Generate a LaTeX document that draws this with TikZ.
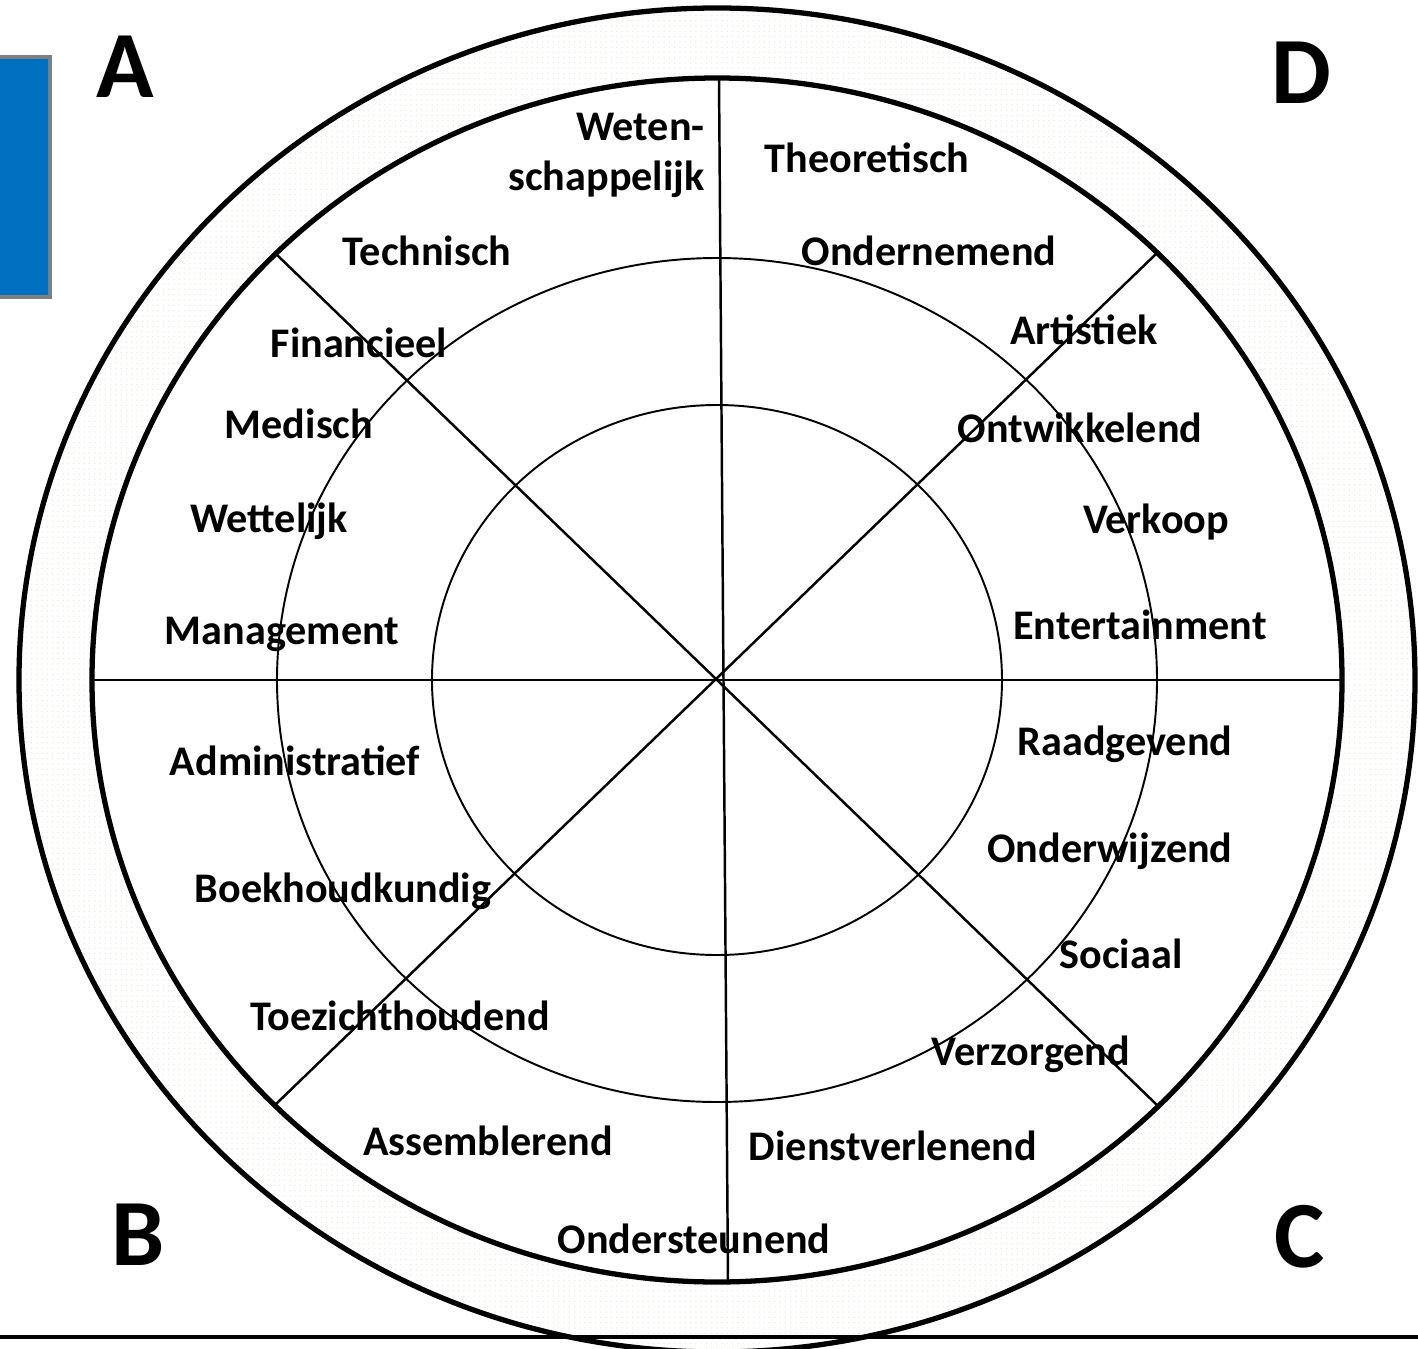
\documentclass[tikz,border=0pt]{standalone}
\usepackage{fontspec}
\setmainfont{Carlito}
\usetikzlibrary{patterns}
\definecolor{WheelBlue}{HTML}{0070C0}
\definecolor{RimGray}{HTML}{7F7F7F}
\definecolor{BandDot}{HTML}{EEEEE2}

\begin{document}
\begin{tikzpicture}[x=0.02cm, y=-0.02cm,
    lbl/.style={font=\fontsize{24}{28.5}\selectfont\bfseries, inner sep=0pt, anchor=base},
    quad/.style={font=\fontsize{54}{60}\selectfont\bfseries, inner sep=0pt, anchor=base},
    rim/.style={line width=3pt},
    ring/.style={line width=1.1pt},
    spoke/.style={line width=1.4pt}]
  \useasboundingbox (0,0) rectangle (1418,1349);
  \coordinate (c) at (717,680);
  % dotted band between the two outer rings
  \path[pattern=dots, pattern color=BandDot, even odd rule]
    (c) ellipse [x radius=698, y radius=672]
    (c) ellipse [x radius=625, y radius=602];
  \draw[rim] (c) ellipse [x radius=698, y radius=672];
  \draw[rim] (c) ellipse [x radius=625, y radius=602];
  \draw[ring] (c) ellipse [x radius=440, y radius=422];
  \draw[ring] (c) ellipse [x radius=285, y radius=275];
  % spokes
  \coordinate (top) at (719,78);
  \coordinate (bot) at (728,1283);
  \coordinate (lft) at (90,680);
  \coordinate (rgt) at (1340,680);
  \coordinate (tl) at (275,253);
  \coordinate (br) at (1157,1105);
  \coordinate (tr) at (1157,253);
  \coordinate (bl) at (275,1105);
  \draw[spoke] (top) -- (bot);
  \draw[spoke] (lft) -- (rgt);
  \draw[spoke] (tl) -- (br);
  \draw[spoke] (tr) -- (bl);
  % base line and blue tab
  \coordinate (bl0) at (0,1337);
  \coordinate (bl1) at (1418,1337);
  \draw[line width=2.4pt] (bl0) -- (bl1);
  \draw[fill=WheelBlue, draw=RimGray, line width=2.2pt] (-10,57) rectangle (50,297);
  % quadrant letters
  \node[quad] (qa) at (125,97) {A};
  \node[quad] (qd) at (1301,103) {D};
  \node[quad] (qb) at (138,1265) {B};
  \node[quad] (qc) at (1300,1267) {C};
  % labels, quadrant A
  \node[lbl, anchor=east, align=right] (weten) at (705,155) {Weten-\\schappelijk};
  \node[lbl] (techn) at (427,265) {Technisch};
  \node[lbl] (finan) at (359,357) {Financieel};
  \node[lbl] (medis) at (299,438) {Medisch};
  \node[lbl] (wette) at (269,532) {Wettelijk};
  \node[lbl] (manag) at (282,644) {Management};
  % quadrant D
  \node[lbl] (theor) at (867,172) {Theoretisch};
  \node[lbl] (onder) at (929,265) {Ondernemend};
  \node[lbl] (artis) at (1084,344) {Artistiek};
  \node[lbl] (ontwi) at (1080,442) {Ontwikkelend};
  \node[lbl] (verko) at (1156,533) {Verkoop};
  \node[lbl] (enter) at (1140,639) {Entertainment};
  % quadrant B
  \node[lbl] (admin) at (295,775) {Administratief};
  \node[lbl] (boekh) at (343,902) {Boekhoudkundig};
  \node[lbl] (toezi) at (400,1030) {Toezichthoudend};
  \node[lbl] (assem) at (488,1155) {Assemblerend};
  \node[lbl] (onste) at (694,1253) {Ondersteunend};
  % quadrant C
  \node[lbl] (raadg) at (1125,755) {Raadgevend};
  \node[lbl] (onwij) at (1110,862) {Onderwijzend};
  \node[lbl] (socia) at (1121,968) {Sociaal};
  \node[lbl] (verzo) at (1031,1065) {Verzorgend};
  \node[lbl] (diens) at (893,1160) {Dienstverlenend};
\end{tikzpicture}
\end{document}
